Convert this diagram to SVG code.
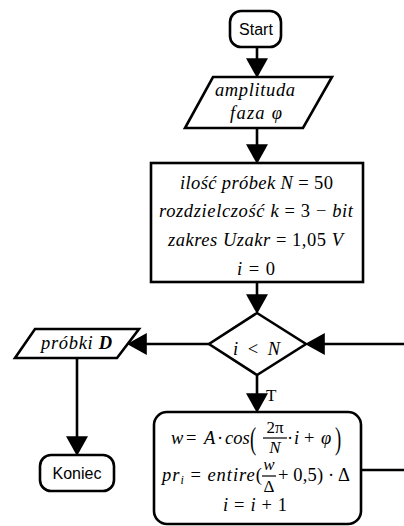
<svg xmlns="http://www.w3.org/2000/svg" width="404" height="526" viewBox="0 0 404 526">
<defs>
<marker id="arr" markerUnits="userSpaceOnUse" markerWidth="20" markerHeight="22" viewBox="0 0 18 20" refX="8" refY="10" orient="auto">
<path d="M0,0 L18,10 L0,20 z" fill="#000"/>
</marker>
</defs>
<style>
.sh{fill:#fff;stroke:#000;stroke-width:2.6;stroke-linejoin:miter}
.cn{fill:none;stroke:#000;stroke-width:2.6}
.sans{font-family:"Liberation Sans","Open Sans",sans-serif;font-size:16px;fill:#000}
.m{font-family:"Liberation Serif","DejaVu Serif",serif;font-size:18.5px;fill:#000}
.f{font-size:17px}
.i{font-style:italic}
.bar{stroke:#000;stroke-width:1.2}
</style>
<g id="connectors">
<line class="cn" x1="257" y1="47" x2="257" y2="67" marker-end="url(#arr)"/>
<line class="cn" x1="257" y1="128" x2="257" y2="153" marker-end="url(#arr)"/>
<line class="cn" x1="257" y1="282" x2="257" y2="303" marker-end="url(#arr)"/>
<line class="cn" x1="209" y1="344" x2="138" y2="344" marker-end="url(#arr)"/>
<line class="cn" x1="404" y1="344" x2="316" y2="344" marker-end="url(#arr)"/>
<line class="cn" x1="257" y1="375" x2="257" y2="402" marker-end="url(#arr)"/>
<line class="cn" x1="77" y1="358" x2="77" y2="445" marker-end="url(#arr)"/>
<line class="cn" x1="361" y1="470" x2="404" y2="470"/>
<text class="m" x="266" y="401" style="font-size:17px">T</text>
</g>
<g id="start">
<rect class="sh" x="230" y="11" width="51" height="36" rx="11"/>
<text class="sans" x="256" y="35" text-anchor="middle">Start</text>
</g>
<g id="input">
<polygon class="sh" points="213,77 332,77 303,128 185,128"/>
<text class="m i" x="215" y="96" textLength="80">amplituda</text>
<text class="m" x="230" y="119" textLength="52"><tspan class="i">faza φ</tspan></text>
</g>
<g id="init">
<rect class="sh" x="151" y="163" width="212" height="119"/>
<text class="m" x="180" y="189" textLength="153"><tspan class="i">ilość próbek N</tspan> = 50</text>
<text class="m" x="159" y="217" textLength="194"><tspan class="i">rozdzielczość k</tspan> = 3 − <tspan class="i">bit</tspan></text>
<text class="m" x="168" y="246" textLength="175"><tspan class="i">zakres Uzakr</tspan> = 1,05 <tspan class="i">V</tspan></text>
<text class="m" x="237" y="275" textLength="38"><tspan class="i">i</tspan> = 0</text>
</g>
<g id="decision">
<polygon class="sh" points="257,313 306,344 257,375 209,344"/>
<text class="m" x="233" y="355" textLength="47"><tspan class="i">i</tspan> &lt; <tspan class="i">N</tspan></text>
</g>
<g id="output">
<polygon class="sh" points="35,329 139,329 117,358 15,358"/>
<text class="m" x="41" y="349" textLength="71"><tspan class="i">próbki </tspan><tspan class="i" font-weight="bold">D</tspan></text>
</g>
<g id="end">
<rect class="sh" x="40" y="455" width="74" height="36" rx="11"/>
<text class="sans" x="77" y="479" text-anchor="middle">Koniec</text>
</g>
<g id="loop">
<rect class="sh" x="154" y="412" width="207" height="112" rx="13"/>
<text class="m" y="444"><tspan class="i" x="171">w</tspan><tspan x="186">=</tspan><tspan class="i" x="204">A</tspan><tspan x="217">·</tspan><tspan class="i" x="225">cos</tspan></text>
<text class="m" x="250" y="449" style="font-size:31px" transform="translate(250 449) scale(0.6 1) translate(-250 -449)">(</text>
<text class="m f" x="275" y="433" text-anchor="middle">2π</text>
<line class="bar" x1="263" y1="438" x2="287" y2="438"/>
<text class="m f i" x="275" y="453" text-anchor="middle">N</text>
<text class="m" y="444"><tspan x="287">·</tspan><tspan class="i" x="294">i</tspan><tspan x="304">+</tspan><tspan class="i" x="321">φ</tspan></text>
<text class="m" x="335" y="449" style="font-size:31px" transform="translate(335 449) scale(0.6 1) translate(-335 -449)">)</text>
<text class="m" x="162" y="481" textLength="100"><tspan class="i">pr</tspan><tspan class="i" font-size="12" dy="3">i</tspan><tspan dy="-3"> = </tspan><tspan class="i">entire</tspan>(</text>
<text class="m f i" x="269" y="470" text-anchor="middle">w</text>
<line class="bar" x1="262" y1="476" x2="276" y2="476"/>
<text class="m f" x="269" y="492" text-anchor="middle">Δ</text>
<text class="m" x="278" y="481" textLength="72">+ 0,5) · Δ</text>
<text class="m" x="223" y="511" textLength="64"><tspan class="i">i</tspan> = <tspan class="i">i</tspan> + 1</text>
</g>
</svg>
